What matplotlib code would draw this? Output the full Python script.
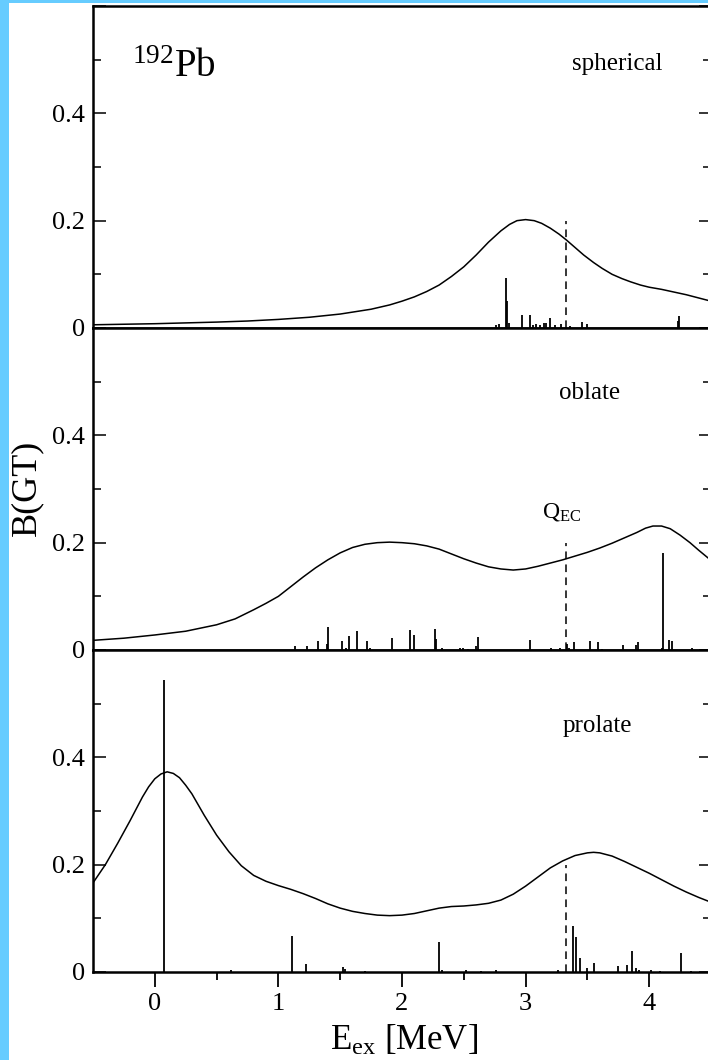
import numpy as np
import matplotlib
matplotlib.use("Agg")
import matplotlib.pyplot as plt
from matplotlib.patches import Rectangle
from matplotlib.ticker import FixedLocator

plt.rcParams['font.family'] = ['Liberation Serif', 'DejaVu Serif']
plt.rcParams['mathtext.fontset'] = 'custom'
plt.rcParams['mathtext.rm'] = 'Liberation Serif'
plt.rcParams['mathtext.it'] = 'Liberation Serif:italic'

# energia de Q_EC (MeV)
q_ec = 3.33

# curvas plegadas (E_ex, B(GT))
esf_x = [-0.5, -0.25, 0.0, 0.25, 0.5, 0.75, 1.0, 1.25, 1.5, 1.75, 1.9, 2.0, 2.1, 2.2,
         2.3, 2.4, 2.5, 2.6, 2.7, 2.8, 2.87, 2.93, 3.0, 3.07, 3.13, 3.2, 3.27, 3.33,
         3.4, 3.47, 3.55, 3.62, 3.7, 3.78, 3.85, 3.93, 4.0, 4.1, 4.2, 4.3, 4.4, 4.5]
esf_y = [0.006, 0.007, 0.008, 0.0095, 0.011, 0.013, 0.016, 0.020, 0.026, 0.035, 0.043,
         0.050, 0.058, 0.068, 0.080, 0.096, 0.114, 0.136, 0.160, 0.181, 0.193, 0.200,
         0.202, 0.200, 0.195, 0.186, 0.175, 0.164, 0.150, 0.136, 0.122, 0.111, 0.100,
         0.092, 0.086, 0.080, 0.076, 0.072, 0.067, 0.062, 0.056, 0.050]

obl_x = [-0.5, -0.25, 0.0, 0.25, 0.5, 0.65, 0.8, 0.9, 1.0, 1.1, 1.2, 1.3, 1.4, 1.5,
         1.6, 1.7, 1.8, 1.9, 2.0, 2.1, 2.2, 2.3, 2.4, 2.5, 2.6, 2.7, 2.8, 2.9, 3.0,
         3.1, 3.2, 3.3, 3.4, 3.5, 3.6, 3.7, 3.8, 3.9, 3.97, 4.03, 4.1, 4.17, 4.25,
         4.33, 4.4, 4.5]
obl_y = [0.018, 0.022, 0.028, 0.035, 0.047, 0.058, 0.075, 0.087, 0.100, 0.118, 0.136,
         0.153, 0.168, 0.181, 0.191, 0.197, 0.200, 0.201, 0.200, 0.198, 0.194, 0.188,
         0.179, 0.170, 0.162, 0.155, 0.151, 0.149, 0.151, 0.156, 0.162, 0.168, 0.175,
         0.182, 0.190, 0.199, 0.209, 0.219, 0.227, 0.231, 0.231, 0.226, 0.214, 0.200,
         0.186, 0.167]

pro_x = [-0.5, -0.4, -0.3, -0.2, -0.1, -0.05, 0.0, 0.05, 0.1, 0.15, 0.2, 0.25, 0.3,
         0.35, 0.4, 0.5, 0.6, 0.7, 0.8, 0.9, 1.0, 1.1, 1.2, 1.3, 1.4, 1.5, 1.6, 1.7,
         1.8, 1.9, 2.0, 2.1, 2.2, 2.3, 2.4, 2.5, 2.6, 2.7, 2.8, 2.9, 3.0, 3.1, 3.2,
         3.3, 3.4, 3.5, 3.55, 3.6, 3.7, 3.8, 3.9, 4.0, 4.1, 4.2, 4.3, 4.4, 4.5]
pro_y = [0.166, 0.200, 0.240, 0.282, 0.326, 0.345, 0.360, 0.369, 0.373, 0.370, 0.362,
         0.348, 0.332, 0.312, 0.292, 0.255, 0.224, 0.198, 0.180, 0.169, 0.161, 0.154,
         0.146, 0.137, 0.127, 0.119, 0.113, 0.109, 0.106, 0.105, 0.106, 0.109, 0.114,
         0.119, 0.122, 0.123, 0.125, 0.128, 0.134, 0.145, 0.160, 0.177, 0.194, 0.207,
         0.217, 0.222, 0.223, 0.222, 0.216, 0.206, 0.195, 0.184, 0.172, 0.160, 0.149,
         0.139, 0.130]

# intensidades discretas
esf_e = [2.763, 2.785, 2.839, 2.85, 2.866, 2.968, 3.033, 3.06, 3.087, 3.114, 3.147,
         3.169, 3.198, 3.236, 3.29, 3.357, 3.457, 3.495, 4.23, 4.24]
esf_b = [0.006, 0.008, 0.093, 0.050, 0.009, 0.024, 0.024, 0.006, 0.007, 0.006, 0.009,
         0.009, 0.018, 0.006, 0.007, 0.004, 0.011, 0.007, 0.013, 0.023]

obl_e = [1.133, 1.233, 1.319, 1.392, 1.4, 1.514, 1.549, 1.573, 1.636, 1.717, 1.741,
         1.917, 2.063, 2.098, 2.263, 2.276, 2.325, 2.466, 2.493, 2.533, 2.601, 2.614,
         3.039, 3.209, 3.277, 3.336, 3.352, 3.395, 3.522, 3.582, 3.615, 3.79, 3.89,
         3.906, 4.1, 4.114, 4.163, 4.185, 4.35]
obl_b = [0.007, 0.008, 0.017, 0.012, 0.043, 0.016, 0.004, 0.026, 0.035, 0.017, 0.003,
         0.022, 0.037, 0.028, 0.040, 0.020, 0.003, 0.003, 0.003, 0.002, 0.007, 0.025,
         0.019, 0.003, 0.003, 0.011, 0.004, 0.015, 0.017, 0.014, 0.002, 0.009, 0.009,
         0.014, 0.003, 0.181, 0.019, 0.017, 0.003]

pro_e = [0.073, 0.62, 1.114, 1.225, 1.525, 1.538, 1.70, 2.303, 2.325, 2.52, 2.64, 2.76,
         3.266, 3.387, 3.409, 3.444, 3.493, 3.552, 3.747, 3.817, 3.863, 3.893, 3.92,
         4.015, 4.088, 4.255, 4.34]
pro_b = [0.544, 0.003, 0.067, 0.014, 0.009, 0.005, 0.002, 0.056, 0.003, 0.003, 0.002,
         0.004, 0.003, 0.086, 0.065, 0.027, 0.007, 0.016, 0.011, 0.013, 0.040, 0.008,
         0.004, 0.004, 0.002, 0.035, 0.002]

paneles = [
    ("spherical", esf_x, esf_y, esf_e, esf_b, 3.74, 0.48),
    ("oblate", obl_x, obl_y, obl_e, obl_b, 3.52, 0.468),
    ("prolate", pro_x, pro_y, pro_e, pro_b, 3.58, 0.447),
]

W, H = 708, 1060
fig = plt.figure(figsize=(W / 100, H / 100), dpi=100)
fig.patch.set_facecolor('#66ccff')
fig.add_artist(Rectangle((9 / W, 0), 1, (H - 3) / H, transform=fig.transFigure,
                         facecolor='white', edgecolor='none', zorder=-10))

izq = 93 / W
ancho = 618 / W
alto = 322 / H
ejes = []
for i, (nombre, cx, cy, e, b, tx, ty) in enumerate(paneles):
    abajo = (H - 972 + (2 - i) * 322) / H
    ax = fig.add_axes([izq, abajo, ancho, alto])
    ax.plot(cx, cy, color='black', lw=1.1)
    ax.vlines(e, 0, b, color='black', lw=1.3)
    ax.vlines(q_ec, 0, 0.2, color='black', lw=1.1, linestyles=(0, (5, 3.5)))
    ax.text(tx, ty, nombre, ha='center', va='baseline', fontsize=18)
    ax.set_xlim(-0.5, 4.5)
    ax.set_ylim(0, 0.6)
    ax.yaxis.set_major_locator(FixedLocator([0, 0.2, 0.4, 0.6]))
    ax.set_yticklabels(['0', '0.2', '0.4', ''])
    ax.yaxis.set_minor_locator(FixedLocator([0.1, 0.3, 0.5]))
    ax.xaxis.set_major_locator(FixedLocator([0, 1, 2, 3, 4]))
    ax.xaxis.set_minor_locator(FixedLocator([0.5, 1.5, 2.5, 3.5]))
    ax.tick_params(axis='y', which='both', direction='in', left=True, right=True,
                   labelsize=19, pad=6, width=1.1)
    ax.tick_params(axis='y', which='major', length=9)
    ax.tick_params(axis='y', which='minor', length=6)
    ax.tick_params(axis='x', which='both', direction='out', top=False, bottom=True,
                   labelsize=19, pad=4, width=1.3)
    ax.tick_params(axis='x', which='major', length=11)
    ax.tick_params(axis='x', which='minor', length=6)
    if i < 2:
        ax.tick_params(axis='x', labelbottom=False)
    for s in ax.spines.values():
        s.set_linewidth(1.8)
    ejes.append(ax)

ejes[0].text(-0.187, 0.468, r'$\mathrm{^{192}Pb}$', ha='left', va='baseline', fontsize=28)
ejes[1].text(3.13, 0.246, r'$\mathrm{Q_{EC}}$', ha='left', va='baseline', fontsize=17)

fig.text(27 / W, 1 - 488 / H, 'B(GT)', rotation=90, ha='center', va='center', fontsize=26)
fig.text(404 / W, 10 / H, r'$\mathrm{E_{ex}}$ [MeV]', ha='center', va='baseline', fontsize=25)

fig.savefig('out.png', dpi=100, facecolor=fig.get_facecolor())
